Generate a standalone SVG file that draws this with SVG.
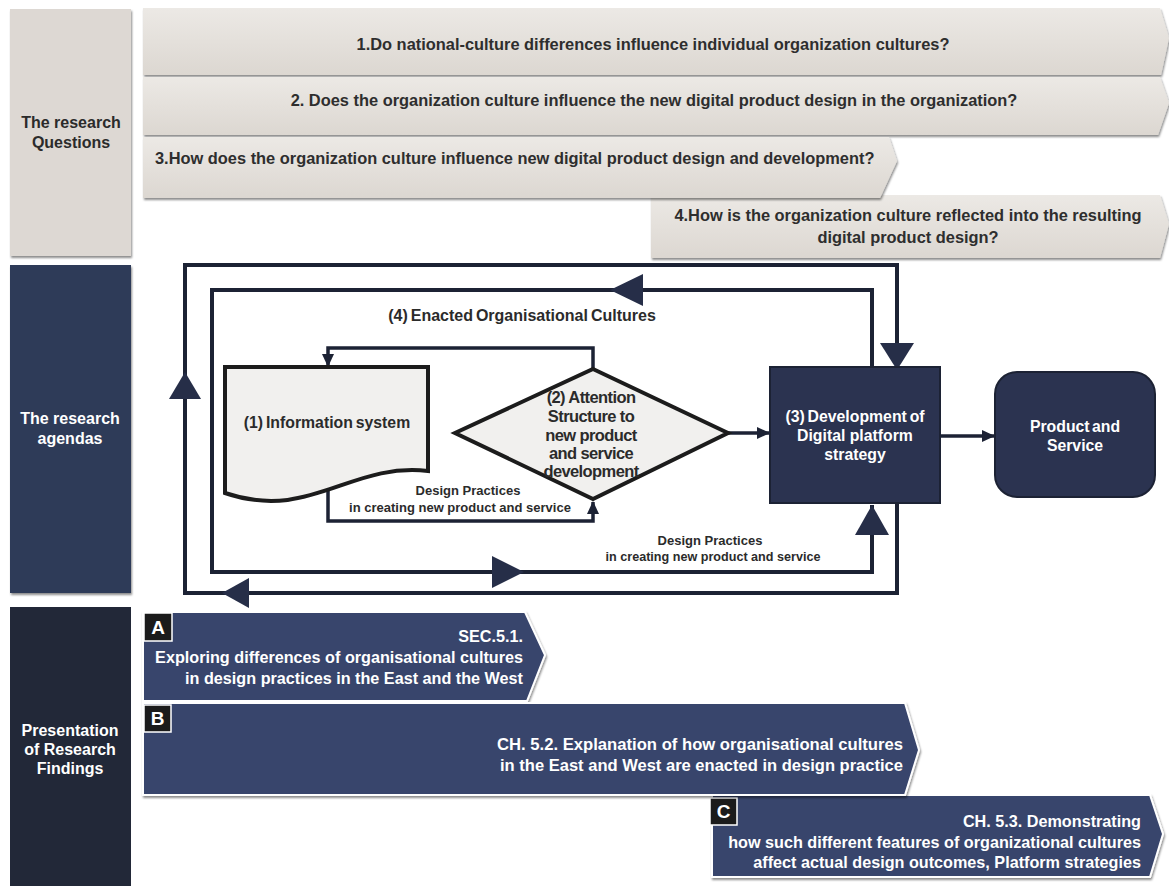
<svg xmlns="http://www.w3.org/2000/svg" width="1169" height="886" viewBox="0 0 1169 886">
  <defs>
    <linearGradient id="qFill" x1="0" y1="0" x2="0" y2="1">
      <stop offset="0" stop-color="#ece9e5"/>
      <stop offset="1" stop-color="#dcd7d1"/>
    </linearGradient>
    <filter id="shadow" x="-5%" y="-10%" width="110%" height="130%">
      <feDropShadow dx="1" dy="2" stdDeviation="1.2" flood-color="#000" flood-opacity="0.45"/>
    </filter>
    <marker id="arrow" markerUnits="userSpaceOnUse" markerWidth="14" markerHeight="14" refX="12" refY="7" orient="auto">
      <path d="M0,1 L13,7 L0,13 Z" fill="#1c2234"/>
    </marker>
    <style>
      text { font-family: "Liberation Sans", Arial, sans-serif; font-weight: bold; }
      .q { font-size: 16.4px; fill: #2e2e2e; }
      .lbl { font-size: 16px; text-anchor: middle; }
      .dark { fill: #2b2b2b; }
      .light { fill: #ffffff; }
      .qbar { fill: url(#qFill); filter: url(#shadow); }
      .bbar { fill: #39456c; stroke: #ffffff; stroke-width: 2; filter: url(#shadow); }
      .tag { fill: #1b1b1b; stroke: #ffffff; stroke-width: 1.5; }
      .tagt { font-size: 19px; fill: #ffffff; text-anchor: middle; }
      .btxt { font-size: 16.2px; fill: #ffffff; text-anchor: end; }
      .loop { fill: none; stroke: #1c2234; stroke-width: 4; stroke-linejoin: miter; }
      .arr { fill: none; stroke: #1c2234; stroke-width: 3.5; }
      .head { fill: #262e48; }
      .node-light { fill: #f1f0ee; stroke: #1c1c1c; stroke-width: 4; }
      .node-dark { fill: #2b3350; stroke: #1c2234; stroke-width: 2; }
      .ntxt { font-size: 15.8px; text-anchor: middle; }
      .dia { font-size: 16.5px; text-anchor: middle; letter-spacing: -0.6px; }
      .small { font-size: 13px; fill: #2b2b2b; text-anchor: middle; }
    </style>
  </defs>

  <rect width="1169" height="886" fill="#ffffff"/>

  <!-- left column labels -->
  <g id="col-questions">
    <rect x="10" y="9" width="121" height="247" fill="#ddd8d3" filter="url(#shadow)"/>
    <text class="lbl dark" x="71" y="128">The research</text>
    <text class="lbl dark" x="71" y="148">Questions</text>
  </g>
  <g id="col-agendas">
    <rect x="10" y="265" width="121" height="328" fill="#2e3a58" filter="url(#shadow)"/>
    <text class="lbl light" x="70" y="424">The research</text>
    <text class="lbl light" x="70" y="444">agendas</text>
  </g>
  <g id="col-findings">
    <rect x="10" y="607" width="121" height="279" fill="#222838"/>
    <text class="lbl light" x="70" y="736">Presentation</text>
    <text class="lbl light" x="70" y="755">of Research</text>
    <text class="lbl light" x="70" y="774">Findings</text>
  </g>

  <!-- research questions -->
  <g id="q4">
    <polygon class="qbar" points="651,195 1160,195 1169,224 1160,258 651,258"/>
    <text class="q" x="908" y="221" text-anchor="middle">4.How is the organization culture reflected into the resulting</text>
    <text class="q" x="908" y="243" text-anchor="middle">digital product design?</text>
  </g>
  <g id="q1">
    <polygon class="qbar" points="143,8 1160,8 1169,38 1161,75 143,75"/>
    <text class="q" x="653" y="50" text-anchor="middle">1.Do national-culture differences influence individual organization cultures?</text>
  </g>
  <g id="q2">
    <polygon class="qbar" points="143,77 1160,77 1169,103 1158,135 143,135"/>
    <text class="q" x="654" y="106" text-anchor="middle">2. Does the organization culture influence the new digital product design in the organization?</text>
  </g>
  <g id="q3">
    <polygon class="qbar" points="143,137 889,137 897,161 880,198 143,198"/>
    <text class="q" x="155" y="164">3.How does the organization culture influence new digital product design and development?</text>
  </g>

  <!-- research agenda loops and arrows -->
  <g id="connectors">
    <path class="loop" d="M897,370 V265 H185 V593 H897 V503"/>
    <path class="loop" d="M872,367 V290 H212 V572 H872 V505"/>
    <polygon class="head" points="185,372 169,399 201,399"/>
    <polygon class="head" points="222,593 249,578 249,608"/>
    <polygon class="head" points="880,343 914,343 897,370"/>
    <polygon class="head" points="610,290 643,274 643,306"/>
    <polygon class="head" points="524,572 492,556 492,588"/>
    <polygon class="head" points="872,505 855,535 889,535"/>
    <path class="arr" d="M593,369 V348 H328 V366" marker-end="url(#arrow)"/>
    <path class="arr" d="M328,480 V521 H593 V502" marker-end="url(#arrow)"/>
    <path class="arr" d="M727,433 H769" marker-end="url(#arrow)"/>
    <path class="arr" d="M940,436 H994" marker-end="url(#arrow)"/>
    <text class="small" x="522" y="321" style="font-size:16px" word-spacing="-1.5">(4) Enacted Organisational Cultures</text>
    <text class="small" x="468" y="495">Design Practices</text>
    <text class="small" x="460" y="512">in creating new product and service</text>
    <text class="small" x="710" y="545">Design Practices</text>
    <text class="small" x="713" y="561" style="font-size:12.6px">in creating new product and service</text>
  </g>

  <g id="node-info-system">
    <path class="node-light" d="M225,367 H428 V471 C350,462 310,522 225,493 Z"/>
    <text class="ntxt dark" x="327" y="428" word-spacing="-1.5">(1) Information system</text>
  </g>
  <g id="node-attention">
    <polygon class="node-light" points="593,369 728,433 593,499 455,433"/>
    <text class="dia dark" x="591" y="403">(2) Attention</text>
    <text class="dia dark" x="591" y="422">Structure to</text>
    <text class="dia dark" x="591" y="441">new product</text>
    <text class="dia dark" x="591" y="459">and service</text>
    <text class="dia dark" x="591" y="477">development</text>
  </g>
  <g id="node-platform">
    <rect class="node-dark" x="770" y="367" width="170" height="136"/>
    <text class="ntxt light" x="855" y="422" word-spacing="-1.5">(3) Development of</text>
    <text class="ntxt light" x="855" y="441">Digital platform</text>
    <text class="ntxt light" x="855" y="460">strategy</text>
  </g>
  <g id="node-product">
    <rect class="node-dark" x="995" y="372" width="160" height="125" rx="22"/>
    <text class="ntxt light" x="1075" y="432" word-spacing="-2">Product and</text>
    <text class="ntxt light" x="1075" y="451">Service</text>
  </g>

  <!-- findings -->
  <g id="finding-a">
    <polygon class="bbar" points="143,612 525,612 545,655 527,701 143,701"/>
    <rect class="tag" x="144" y="613" width="28" height="28"/>
    <text class="tagt" x="158" y="634">A</text>
    <text class="btxt" x="523" y="642">SEC.5.1.</text>
    <text class="btxt" x="523" y="663">Exploring differences of organisational cultures</text>
    <text class="btxt" x="523" y="684">in design practices in the East and the West</text>
  </g>
  <g id="finding-c">
    <polygon class="bbar" points="712,795 1150,795 1163,834 1150,877 712,877"/>
    <rect class="tag" x="710" y="798" width="27" height="27"/>
    <text class="tagt" x="723.5" y="818">C</text>
    <text class="btxt" x="1141" y="827">CH. 5.3. Demonstrating</text>
    <text class="btxt" x="1141" y="848">how such different features of organizational cultures</text>
    <text class="btxt" x="1141" y="868">affect actual design outcomes, Platform strategies</text>
  </g>
  <g id="finding-b">
    <polygon class="bbar" points="143,703 905,703 919,750 905,795 143,795"/>
    <rect class="tag" x="144" y="705" width="27" height="27"/>
    <text class="tagt" x="157.5" y="725">B</text>
    <text class="btxt" x="903" y="750" textLength="406" lengthAdjust="spacingAndGlyphs" style="font-size:17px">CH. 5.2.  Explanation of how organisational cultures</text>
    <text class="btxt" x="903" y="771" textLength="403" lengthAdjust="spacingAndGlyphs" style="font-size:17px">in the East and West are enacted in design practice</text>
  </g>
</svg>
